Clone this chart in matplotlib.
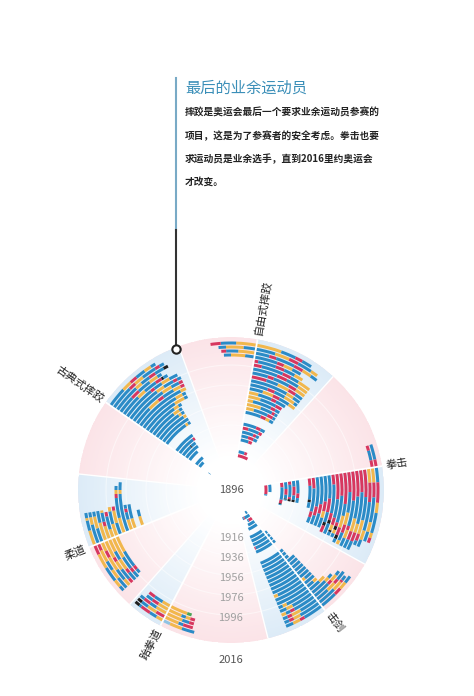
import numpy as np
import matplotlib.pyplot as plt
from matplotlib.colors import LinearSegmentedColormap
from matplotlib.lines import Line2D

plt.rcParams['font.family'] = ['Noto Sans CJK SC', 'DejaVu Sans']

W, H = 474, 696

# colour of each medal segment (continent of the winner)
COLORS = {'B': '#2b8bc6', 'Y': '#f1b74d', 'R': '#d7375f', 'K': '#1e1e1e',
          'G': '#4aa557', 'L': '#8fc3e3'}

# segment codes: letter = colour, number = arc length in degrees
FREESTYLE_MEN = {
    1904: "R18", 1908: "B10 R4", 1920: "B10 R4", 1924: "B8 R6 B4",
    1928: "B12 R3 B3", 1932: "R6 B10 R3", 1936: "B12 R4 B4",
    1948: "B12 R4 Y3 B3", 1952: "Y6 B10 R4 B2", 1956: "Y10 B8 R2 B2",
    1960: "Y4 B12 R3 B3", 1964: "Y8 B10 R4", 1968: "Y6 B8 R3 B6",
    1972: "B8 Y6 R4 B6 Y4", 1976: "B10 R4 B6 Y6 B2", 1980: "B20 Y4 B4",
    1984: "R8 B6 Y6 R4 B4", 1988: "B8 R3 B8 R4 Y5", 1992: "B12 R5 B6 Y5",
    1996: "R4 B10 R4 B4 Y6", 2000: "R2 B8 R4 B5 Y4", 2004: "B10 R3 Y4 B4",
    2008: "B6 R3 B8 R4 Y4 B3", 2012: "B8 Y6 R4 B6 Y3", 2016: "Y10 B6 R3 B4",
}
FREESTYLE_WOMEN = {2004: "B4 Y6 B3", 2008: "Y7 B5 R2", 2012: "B5 Y7 B3",
                   2016: "Y8 B6 R4"}

BOXING_MEN = {
    1904: "R16 B2", 1908: "B12", 1920: "R6 B14 R4 K1 B1",
    1924: "B8 R6 B4 K1 B1", 1928: "R4 B12 R2 K2", 1932: "B6 R8 B4 K2",
    1936: "B12 R4 B4", 1948: "R6 B10 K2 B4", 1952: "R8 B16 R4 B4",
    1956: "B20 R6 B6", 1960: "B18 R6 B8", 1964: "B16 R6 Y4 B6",
    1968: "B14 R8 B6 K2 R4", 1972: "R6 B16 R4 K2 B6",
    1976: "R14 B10 R4 Y3 K1 B2", 1980: "R12 B14 R2 K2 Y2 B2",
    1984: "R16 B6 Y6 R4 K2 B2", 1988: "R10 B10 Y6 R4 B4 Y2",
    1992: "R14 B12 R2 Y4 B4", 1996: "R12 B10 Y6 R4 B4",
    2000: "R10 B14 Y4 R4 B4", 2004: "R12 B10 Y6 R3 B2",
    2008: "Y6 R8 B12 Y4 B3", 2012: "Y6 R6 B10 Y4 B4",
    2016: "B6 R8 Y4 B8 Y2 R2",
}
BOXING_WOMEN = {2012: "R3 B4 R2", 2016: "R3 B6"}

FENCING_MEN = {
    1896: "B6", 1900: "B12 R2 B2", 1904: "R8 B2", 1908: "B12", 1912: "B14",
    1920: "B16", 1924: "B16", 1928: "B16", 1932: "B15 R1", 1936: "B16",
    1948: "B16", 1952: "B16", 1956: "B16", 1960: "B16", 1964: "B16",
    1968: "B16", 1972: "B16", 1976: "B16", 1980: "B16", 1984: "B14 Y2",
    1988: "B16", 1992: "B16", 1996: "B12 Y2 B2", 2000: "B10 Y3 B3",
    2004: "B10 R2 B2 Y2", 2008: "B8 Y4 R2 B2", 2012: "B9 Y3 R2 B2",
    2016: "B8 R2 Y3 B3",
}
FENCING_WOMEN = {
    1924: "B3", 1928: "B3", 1932: "B3", 1936: "B3", 1948: "B3", 1952: "B3",
    1956: "B3", 1960: "B6", 1964: "B6", 1968: "B6", 1972: "B6", 1976: "B6",
    1980: "B6", 1984: "Y2 B4", 1988: "B6", 1992: "B4 Y2", 1996: "B6 Y3",
    2000: "B8 Y2 B2", 2004: "B8 R2 Y3 B2", 2008: "B6 Y4 R2 B4",
    2012: "B8 Y4 R1 B2", 2016: "B7 R3 Y3 B3",
}

JUDO_MEN = {
    1964: "Y6 B4", 1972: "Y6 B8", 1976: "Y6 B4 R2 B2", 1980: "B20 Y2 B4",
    1984: "Y8 B10 R2 Y2 B2", 1988: "B6 Y6 R2", 1992: "Y6 B6 Y2",
    1996: "Y4 B6 R2", 2000: "Y6 R2 B4 Y1", 2004: "Y8 B5", 2008: "B6 Y5 B2",
    2012: "B8 Y3 B2", 2016: "Y6 B4 Y1 B2",
}
JUDO_WOMEN = {
    1992: "Y8 B8 R2 B2", 1996: "Y10 B6 R2 B3", 2000: "Y6 B4 Y5 R2 B4",
    2004: "Y8 R2 Y4 B5 R2", 2008: "Y4 R3 Y6 B5 Y3", 2012: "R3 Y5 B4 Y4 B5",
    2016: "R4 Y6 B6 Y3 B2",
}

TKD_MEN = {2000: "Y4 B4 R3", 2004: "Y5 R3 B3", 2008: "Y5 B3 R3 B2",
           2012: "R4 Y4 B3 K2", 2016: "Y3 B3 R4 B1 K2"}
TKD_WOMEN = {2000: "Y8 G2", 2004: "Y6 B2 Y2 R2", 2008: "Y7 B3 R2",
             2012: "Y6 B2 R4", 2016: "L3 Y5 B5"}

GRECO_MEN = {
    1896: "B3", 1908: "B10", 1912: "B14", 1920: "B14", 1924: "B18",
    1928: "B12 K1 B5", 1932: "B18 R2", 1936: "B20", 1948: "B20 Y2 B2",
    1952: "B24", 1956: "B22 Y2", 1960: "B20 Y2 B2", 1964: "B18 Y4 B2",
    1968: "B20 Y3 B2", 1972: "B22 Y6 B2", 1976: "B24 Y4 B2", 1980: "B28 Y3",
    1984: "B10 Y6 R3 B6 Y4 R2", 1988: "B20 Y5 B4 R2", 1992: "B18 Y4 B5 R2 B2",
    1996: "B16 R2 B4 Y4 B4", 2000: "B10 Y4 B6 R3 K1 B2", 2004: "B8 R4 B6 Y4 B2",
    2008: "B12 Y3 B4 R3 B4 K2", 2012: "B10 R3 Y4 B6 R2 B2",
    2016: "B8 Y4 R3 B4 Y3 B2",
}

SPORTS = ['自由式摔跤', '拳击', '击剑', '跆拳道', '柔道', '古典式摔跤']
DIVIDER = [80, 9, -52, 242.5, 202, 145]
MEN_DATA = [FREESTYLE_MEN, BOXING_MEN, FENCING_MEN, TKD_MEN, JUDO_MEN, GRECO_MEN]
WOMEN_DATA = [FREESTYLE_WOMEN, BOXING_WOMEN, FENCING_WOMEN, TKD_WOMEN, JUDO_WOMEN, {}]
# angular end of the light blue sector behind the men's arcs
MEN_SECTOR_END = [48, -29, -76, 228.5, 174, 110]

YEAR_TICKS = [1916, 1936, 1956, 1976, 1996]
RMAX = 153


def radius(year):
    return 27 + (year - 1896)


def segments(code):
    return [(tok[0], float(tok[1:])) for tok in code.split()]


def draw_arcs(ax, data, start, direction):
    for year, code in data.items():
        r = radius(year)
        a = start
        for c, n in segments(code):
            ax.bar(np.radians(a + direction * n / 2), 3.0, width=np.radians(n),
                   bottom=r - 1.5, color=COLORS[c], linewidth=0, zorder=3)
            a += direction * n


fig = plt.figure(figsize=(W / 100, H / 100), dpi=100)
cx, cy = 231, 490
ax = fig.add_axes([(cx - RMAX) / W, (H - cy - RMAX) / H, 2 * RMAX / W, 2 * RMAX / H],
                  projection='polar')
ax.set_ylim(0, RMAX)
ax.axis('off')

# background: pink disc and light blue sectors, fading to white at centre
pink = LinearSegmentedColormap.from_list('pink', [(0, '#ffffff'), (0.2, '#ffffff'), (1, '#fbe3e7')])
blue = LinearSegmentedColormap.from_list('blue', [(0, '#ffffff'), (0.2, '#ffffff'), (1, '#dcebf7')])
r_edges = np.linspace(0, RMAX, 90)
t_edges = np.radians(np.linspace(0, 360, 361))
ax.pcolormesh(t_edges, r_edges, np.tile(r_edges[:-1, None], (1, 360)),
              cmap=pink, vmin=0, vmax=RMAX, shading='flat', zorder=0)
for d, e in zip(DIVIDER, MEN_SECTOR_END):
    te = np.radians(np.linspace(min(d, e), max(d, e), 40))
    ax.pcolormesh(te, r_edges, np.tile(r_edges[:-1, None], (1, 39)),
                  cmap=blue, vmin=0, vmax=RMAX, shading='flat', zorder=1)
    ax.plot([np.radians(e)] * 2, [0, RMAX], color='white', lw=1.0, zorder=2)

th = np.linspace(0, 2 * np.pi, 400)
for y in YEAR_TICKS:
    ax.plot(th, np.full_like(th, radius(y) - 2), color='white', lw=0.8, alpha=0.5, zorder=2)

for men, women, d in zip(MEN_DATA, WOMEN_DATA, DIVIDER):
    draw_arcs(ax, men, d, -1)
    draw_arcs(ax, women, d, 1)
    ax.plot([np.radians(d)] * 2, [0, RMAX], color='white', lw=1.3, zorder=4)

for name, d in zip(SPORTS, DIVIDER):
    if np.cos(np.radians(d)) >= 0:
        rot, ha = d, 'left'
    else:
        rot, ha = d - 180, 'right'
    ax.text(np.radians(d), 157, name, rotation=rot, rotation_mode='anchor',
            ha=ha, va='center', fontsize=8, color='#222222', clip_on=False, zorder=5)

# year scale along the bottom
ax.text(0, 0, '1896', ha='center', va='center', fontsize=8, color='#555555', zorder=5)
for y in YEAR_TICKS:
    ax.text(np.radians(-90), radius(y) + 1, str(y), ha='center', va='center',
            fontsize=8, color='#a0a0a0', zorder=5)
ax.text(np.radians(-90), 170, '2016', ha='center', va='center', fontsize=8,
        color='#555555', clip_on=False, zorder=5)


def fx(x):
    return x / W


def fy(y):
    return 1 - y / H


# callout line and text
fig.add_artist(Line2D([fx(176)] * 2, [fy(78), fy(230)], color='#79aac6', lw=1.5))
fig.add_artist(Line2D([fx(176)] * 2, [fy(230), fy(345)], color='#333333', lw=1.5))
fig.add_artist(Line2D([fx(176)], [fy(349)], marker='o', markersize=6,
                      markerfacecolor='white', markeredgecolor='#222222', markeredgewidth=1.5))

fig.text(fx(185), fy(88), '最后的业余运动员', fontsize=11, color='#3b8fb8', va='center')
body = ['摔跤是奥运会最后一个要求业余运动员参赛的',
        '项目，这是为了参赛者的安全考虑。拳击也要',
        '求运动员是业余选手，直到2016里约奥运会',
        '才改变。']
for i, line in enumerate(body):
    fig.text(fx(185), fy(113 + 23 * i), line, fontsize=7, color='#222222',
             va='center', fontweight='bold')

fig.savefig('out.png', dpi=100)
